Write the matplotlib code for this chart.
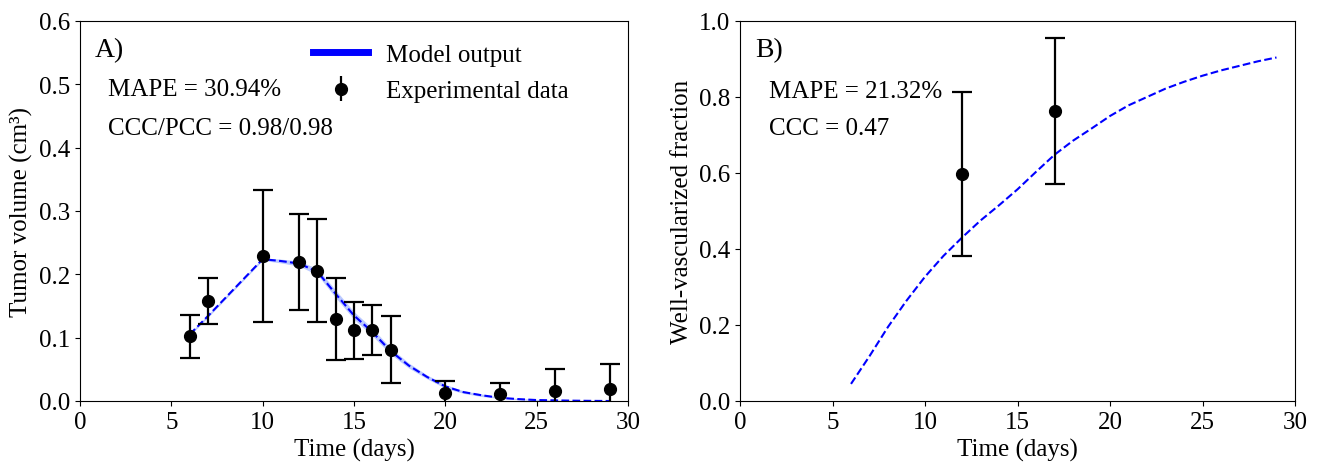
import matplotlib
matplotlib.use("Agg")
import matplotlib.pyplot as plt
import numpy as np
from matplotlib.lines import Line2D

plt.rcParams['font.family'] = ['Liberation Serif', 'DejaVu Serif']
plt.rcParams['font.size'] = 18

# panel A - tumor volume
days_a = [6, 7, 10, 12, 13, 14, 15, 16, 17, 20, 23, 26, 29]
vol_mean = [0.102, 0.158, 0.229, 0.220, 0.206, 0.129, 0.112, 0.112, 0.081, 0.013, 0.011, 0.016, 0.019]
vol_err = [0.034, 0.037, 0.104, 0.076, 0.082, 0.065, 0.045, 0.040, 0.053, 0.018, 0.018, 0.034, 0.040]

model_t_a = [6, 7, 8, 9, 10, 11, 12, 13, 14, 15, 16, 17, 18, 19, 20, 21, 22, 23, 24, 25, 26, 27, 28, 29]
model_v = [0.105, 0.134, 0.164, 0.194, 0.224, 0.221, 0.217, 0.204, 0.169, 0.135, 0.109, 0.079, 0.056, 0.038, 0.023,
           0.014, 0.009, 0.005, 0.003, 0.0015, 0.001, 0.0005, 0.0002, 0.0]
band_w = [0.002, 0.002, 0.002, 0.002, 0.002, 0.003, 0.004, 0.005, 0.006, 0.006, 0.006, 0.005, 0.004, 0.003, 0.003,
          0.002, 0.002, 0.001, 0.001, 0.001, 0.0005, 0.0005, 0.0002, 0.0]

# panel B - vascular fraction
days_b = [12, 17]
vasc_mean = [0.598, 0.763]
vasc_lo = [0.381, 0.571]
vasc_hi = [0.813, 0.955]

model_t_b = [6, 7, 8, 9, 10, 11, 12, 13, 14, 15, 16, 17, 18, 19, 20, 21, 22, 23, 24, 25, 26, 27, 28, 29]
model_f = [0.045, 0.118, 0.195, 0.264, 0.327, 0.382, 0.430, 0.475, 0.515, 0.557, 0.603, 0.648, 0.685, 0.717,
           0.750, 0.778, 0.800, 0.822, 0.840, 0.856, 0.870, 0.882, 0.894, 0.904]

fig = plt.figure(figsize=(13.18, 4.64), dpi=100)
ax1 = fig.add_axes([80 / 1318, 62 / 464, 548 / 1318, 380 / 464])
ax2 = fig.add_axes([740 / 1318, 62 / 464, 555 / 1318, 380 / 464])

eb_style = dict(fmt='o', color='black', ms=8.5, capsize=7, elinewidth=1.6, capthick=1.6)

# A
t = np.array(model_t_a)
v = np.array(model_v)
w = np.array(band_w)
ax1.fill_between(t, v - w, v + w, color='#8fa8ff', alpha=0.6, lw=0)
ax1.plot(t, v, '--', color='blue', lw=1.5)
ax1.errorbar(days_a, vol_mean, yerr=vol_err, **eb_style)
ax1.set_xlim(0, 30)
ax1.set_ylim(0, 0.6)
ax1.set_xlabel('Time (days)')
ax1.set_ylabel('Tumor volume (cm³)')
ax1.text(0.027, 0.926, 'A)', transform=ax1.transAxes, fontsize=20, va='center')
ax1.text(0.051, 0.82, 'MAPE = 30.94%', transform=ax1.transAxes, va='center')
ax1.text(0.051, 0.718, 'CCC/PCC = 0.98/0.98', transform=ax1.transAxes, va='center')

h_model = Line2D([], [], color='blue', lw=5)
h_data = ax1.errorbar([], [], yerr=[], **eb_style)
ax1.legend([h_model, h_data], ['Model output', 'Experimental data'], loc='upper left',
           bbox_to_anchor=(0.385, 1.0), frameon=False, handlelength=2.2, handletextpad=0.7,
           labelspacing=0.55)

# B
ax2.plot(model_t_b, model_f, '--', color='blue', lw=1.5)
yerr_b = [np.array(vasc_mean) - np.array(vasc_lo), np.array(vasc_hi) - np.array(vasc_mean)]
ax2.errorbar(days_b, vasc_mean, yerr=yerr_b, **eb_style)
ax2.set_xlim(0, 30)
ax2.set_ylim(0, 1.0)
ax2.set_xlabel('Time (days)')
ax2.set_ylabel('Well-vascularized fraction')
ax2.text(0.027, 0.926, 'B)', transform=ax2.transAxes, fontsize=20, va='center')
ax2.text(0.052, 0.816, 'MAPE = 21.32%', transform=ax2.transAxes, va='center')
ax2.text(0.052, 0.718, 'CCC = 0.47', transform=ax2.transAxes, va='center')

for ax in (ax1, ax2):
    ax.set_xticks([0, 5, 10, 15, 20, 25, 30])

fig.savefig('out.png', dpi=100)
